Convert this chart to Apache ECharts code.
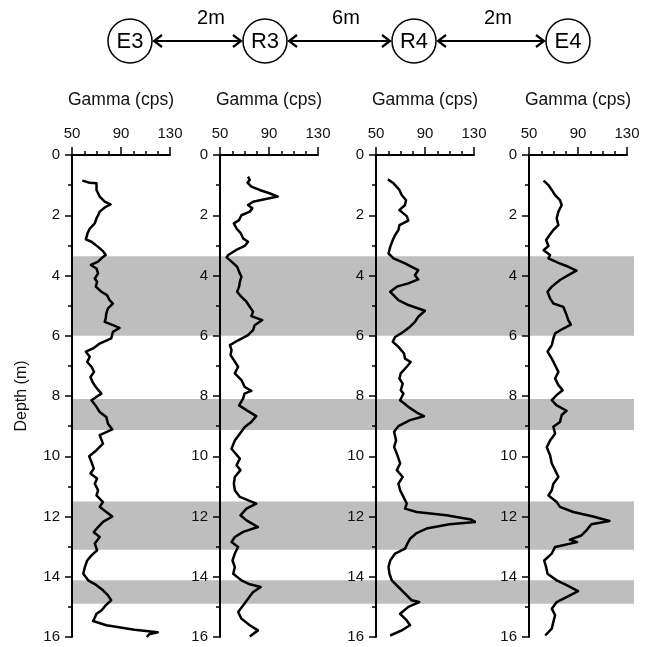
<!DOCTYPE html>
<html>
<head>
<meta charset="utf-8">
<script src="https://cdn.jsdelivr.net/npm/echarts@6/dist/echarts.min.js"></script>
<style>
  html, body { margin: 0; padding: 0; background: #fff; }
  #chart { width: 652px; height: 647px; }
</style>
</head>
<body>
<div id="chart"></div>
<script>
// borehole names and spacing between them
var wellNames = ['E3', 'R3', 'R4', 'E4'];
var spacingLabels = ['2m', '6m', '2m'];

// gamma logs, [depth (m), gamma (cps)]
var logE3 = [[0.85,58.4],[0.92,64.5],[0.94,70],[1.16,70],[1.38,72.6],[1.55,76.7],[1.64,81.5],[1.72,77.5],[1.88,72.6],[2.0,71.3],[2.1,70],[2.27,68.6],[2.44,64.5],[2.6,62.7],[2.8,61.3],[2.88,65.9],[3.05,71.3],[3.19,75.3],[3.32,77.5],[3.43,74],[3.54,71.3],[3.65,65.4],[3.77,70],[3.93,71.3],[4.1,68.6],[4.21,70.5],[4.37,69.4],[4.54,74],[4.65,78.6],[4.82,80.7],[4.93,83.4],[5.09,79.4],[5.26,78],[5.43,77.5],[5.54,76.7],[5.65,83.4],[5.74,88.8],[5.87,83.4],[6.09,82],[6.26,72.6],[6.42,67.2],[6.53,61.3],[6.7,64.5],[6.87,62.4],[7.03,65.9],[7.2,68],[7.37,65.1],[7.53,66.7],[7.7,69.4],[7.92,74],[8.14,65.9],[8.36,70],[8.53,72.6],[8.7,78],[8.92,79.4],[9.11,82.9],[9.3,72.6],[9.58,75.3],[9.8,70],[10.0,64],[10.19,65.9],[10.41,67.8],[10.57,65.1],[10.74,70.5],[10.91,68.6],[11.13,71.3],[11.3,70],[11.52,75.3],[11.68,72.6],[11.85,78],[12.0,82.9],[12.18,75.3],[12.35,71.3],[12.52,67.8],[12.68,72.6],[12.9,68.6],[13.12,70.5],[13.29,65.9],[13.46,62.4],[13.68,60.5],[13.9,59.2],[14.12,63.2],[14.28,70],[14.45,75.3],[14.62,79.4],[14.78,82],[14.95,77.5],[15.12,74],[15.23,70],[15.36,68.6],[15.47,67.2],[15.61,78],[15.76,101],[15.84,120],[15.91,113],[16.0,111]];
var logR3 = [[0.72,72.9],[0.83,74.3],[0.92,72.4],[1.05,75.6],[1.16,82.3],[1.27,90.4],[1.38,97.2],[1.47,86.4],[1.55,77],[1.66,72.9],[1.77,76.4],[1.88,74.3],[2.0,67.5],[2.16,65.6],[2.27,61.3],[2.44,63.5],[2.6,67],[2.77,68.9],[2.88,72.9],[3.02,70.2],[3.16,62.9],[3.32,56.7],[3.4,55.4],[3.54,59.4],[3.71,64],[3.88,65.6],[4.04,67.5],[4.21,66.2],[4.37,65.6],[4.54,64],[4.71,67.5],[4.87,71.6],[5.04,74.3],[5.2,77],[5.35,75.6],[5.48,84.5],[5.65,78.3],[5.81,77],[5.98,72.9],[6.15,64.8],[6.31,58.1],[6.48,59.4],[6.64,58.6],[6.81,61.3],[7.03,64.8],[7.25,62.1],[7.47,67.5],[7.7,70.2],[7.83,75.6],[7.92,70],[8.08,68.9],[8.31,65.6],[8.47,71.6],[8.67,79.6],[8.86,75.6],[9.03,70.2],[9.25,66.2],[9.48,62.1],[9.75,59.4],[10.08,66.2],[10.3,63.5],[10.46,66.7],[10.69,62.1],[10.91,61.3],[11.13,62.1],[11.35,66.2],[11.57,79.6],[11.74,71.6],[11.96,66.7],[12.13,71.6],[12.35,81],[12.51,68.9],[12.68,62.1],[12.85,59.4],[13.01,64.8],[13.23,62.1],[13.46,60.2],[13.68,62.1],[13.9,60.8],[14.12,67.5],[14.25,74.3],[14.34,83.2],[14.51,77],[14.73,72.9],[14.95,68.9],[15.17,64.8],[15.39,67.5],[15.61,74.3],[15.78,81],[15.98,74.3]];
var logR4 = [[0.81,59.7],[0.94,64.3],[1.16,69.1],[1.33,71],[1.5,74.5],[1.66,73.7],[1.83,69.1],[2.03,75.1],[2.18,76.4],[2.33,69.1],[2.49,68.3],[2.66,65.6],[2.82,63.7],[3.05,61.6],[3.27,60.2],[3.43,64.3],[3.6,73.7],[3.71,79.1],[3.82,84.5],[3.99,81.8],[4.13,84.5],[4.26,76.4],[4.37,67],[4.54,61.6],[4.65,64.3],[4.82,68.3],[4.98,76.4],[5.17,89.9],[5.37,84.5],[5.54,81.8],[5.7,77.8],[5.87,72.4],[6.04,65.6],[6.2,63.7],[6.37,68.3],[6.59,72.9],[6.76,73.7],[6.87,78.3],[7.03,75.1],[7.25,70.2],[7.42,69.1],[7.59,71.8],[7.81,70.2],[7.92,72.4],[8.14,69.7],[8.36,76.4],[8.58,84.5],[8.67,89.1],[8.8,77.8],[9.0,68.3],[9.19,64.8],[9.47,66.4],[9.69,64.8],[9.97,67.5],[10.24,69.7],[10.46,67],[10.69,71.8],[10.91,68.3],[11.13,69.7],[11.35,72.4],[11.57,75.1],[11.74,73.7],[11.85,83.2],[11.96,107.4],[12.1,127.6],[12.18,131],[12.26,110],[12.4,91.2],[12.55,83.2],[12.74,77.8],[12.9,75.6],[13.07,73.7],[13.23,65.6],[13.46,61.6],[13.68,60.2],[13.9,61],[14.12,62.9],[14.34,68.3],[14.56,73.7],[14.78,79.1],[14.84,85.3],[15.0,76.4],[15.23,69.7],[15.45,75.1],[15.61,77.8],[15.78,71],[15.95,61.6]];
var logE4 = [[0.85,61.9],[1.0,65.9],[1.16,68.6],[1.33,71.3],[1.5,75.3],[1.66,76.7],[1.88,74],[2.1,72.6],[2.33,74],[2.49,69.9],[2.66,66.7],[2.82,64],[3.02,65.9],[3.16,61.9],[3.32,67.2],[3.43,65.9],[3.58,74],[3.71,82.1],[3.84,88.8],[3.99,82.1],[4.15,75.3],[4.37,68.6],[4.54,65.1],[4.76,67.2],[4.93,69.9],[5.04,78],[5.26,80.2],[5.48,82.1],[5.63,84.2],[5.76,78],[5.92,71.3],[6.09,69.9],[6.31,68.6],[6.53,65.1],[6.76,68.6],[6.98,71.3],[7.2,74],[7.42,71.3],[7.64,74],[7.81,77.5],[7.95,73],[8.14,68.6],[8.31,72.6],[8.49,80.7],[8.63,76.7],[8.86,75.3],[9.02,69.9],[9.25,71.3],[9.48,67.2],[9.7,64.5],[9.97,67.2],[10.24,68.6],[10.46,71.3],[10.69,74],[10.91,69.9],[11.13,68.6],[11.3,65.9],[11.52,72.6],[11.68,75.3],[11.85,86.1],[12.0,102.3],[12.15,115.7],[12.26,100.9],[12.46,96.9],[12.63,92.8],[12.77,83.4],[12.85,89.3],[13.01,71.3],[13.23,68.6],[13.46,62.4],[13.68,64],[13.9,65.1],[14.12,72.6],[14.28,80.7],[14.48,90.1],[14.62,83.4],[14.84,72.6],[15.06,68.6],[15.28,71.3],[15.5,69.9],[15.72,68.6],[15.95,63.2]];

// shaded depth intervals (m)
var bandTop = [3.36, 8.1, 11.5, 14.12];
var bandBottom = [6.0, 9.13, 13.1, 14.9];

// axis ranges
var gammaMin = 50, gammaMax = 130, gammaStep = 40;
var depthMin = 0, depthMax = 16, depthStep = 2;

var logs = [logE3, logR3, logR4, logE4];

var chart = echarts.init(document.getElementById('chart'));
var font = "'Liberation Sans', Arial, Helvetica, sans-serif";

var panelLeft = [72, 220, 376, 529];
var panelWidth = 98;
var plotTop = 155, plotHeight = 482;

var grids = [], xAxes = [], yAxes = [], series = [];

for (var i = 0; i < 4; i++) {
    grids.push({ left: panelLeft[i], width: panelWidth, top: plotTop, height: plotHeight });
    xAxes.push({
        gridIndex: i,
        type: 'value',
        position: 'top',
        min: gammaMin, max: gammaMax, interval: gammaStep,
        z: 5,
        name: 'Gamma (cps)',
        nameLocation: 'middle',
        nameGap: 46,
        nameTextStyle: { fontSize: 17.5, color: '#111', fontFamily: font },
        axisLine: { show: true, onZero: false, lineStyle: { color: '#000', width: 2 } },
        axisTick: { show: true, length: 8, lineStyle: { color: '#000', width: 1.5 } },
        minorTick: { show: true, splitNumber: 4, length: 4, lineStyle: { color: '#000', width: 1.5 } },
        splitLine: { show: false },
        minorSplitLine: { show: false },
        axisLabel: { fontSize: 15, color: '#111', margin: 14, fontFamily: font }
    });
    yAxes.push({
        gridIndex: i,
        type: 'value',
        inverse: true,
        min: depthMin, max: depthMax, interval: depthStep,
        z: 5,
        name: i === 0 ? 'Depth (m)' : '',
        nameLocation: 'middle',
        nameGap: 42,
        nameRotate: 90,
        nameTextStyle: { fontSize: 16, color: '#111', fontFamily: font },
        axisLine: { show: true, onZero: false, lineStyle: { color: '#000', width: 2 } },
        axisTick: { show: true, length: 7, lineStyle: { color: '#000', width: 1.5 } },
        minorTick: { show: true, splitNumber: 2, length: 4, lineStyle: { color: '#000', width: 1.5 } },
        splitLine: { show: false },
        minorSplitLine: { show: false },
        axisLabel: { fontSize: 15, color: '#111', margin: 12, fontFamily: font }
    });
    series.push({
        name: wellNames[i],
        type: 'line',
        xAxisIndex: i,
        yAxisIndex: i,
        z: 6,
        showSymbol: false,
        symbol: 'none',
        animation: false,
        lineStyle: { color: '#000', width: 2.5, join: 'round' },
        data: logs[i].map(function (p) { return [p[1], p[0]]; })
    });
}

// one wide grid behind the panels for the grey bands
grids.push({ left: 72, width: 562, top: plotTop, height: plotHeight });
xAxes.push({ gridIndex: 4, type: 'value', min: 0, max: 1, show: false });
yAxes.push({ gridIndex: 4, type: 'value', inverse: true, min: depthMin, max: depthMax, show: false });
var bands = [];
for (var b = 0; b < bandTop.length; b++) {
    bands.push([{ yAxis: bandTop[b] }, { yAxis: bandBottom[b] }]);
}
series.push({
    type: 'line',
    xAxisIndex: 4,
    yAxisIndex: 4,
    z: 1,
    data: [],
    markArea: { silent: true, z: 1, itemStyle: { color: '#bebebe' }, data: bands }
});

// header: boreholes and distances
var wellX = [130, 265, 414, 568];
var spacingX = [211, 346, 498];
var headY = 41, headR = 22;
var graphic = [];
for (var k = 0; k < 4; k++) {
    graphic.push({
        type: 'circle',
        shape: { cx: wellX[k], cy: headY, r: headR },
        style: { fill: 'none', stroke: '#000', lineWidth: 1.5 }
    });
    graphic.push({
        type: 'text',
        x: wellX[k], y: headY + 1,
        style: { text: wellNames[k], font: '22px ' + font, fill: '#000', align: 'center', verticalAlign: 'middle' }
    });
}
for (var k = 0; k < 3; k++) {
    var x1 = wellX[k] + headR + 2, x2 = wellX[k + 1] - headR - 2;
    graphic.push({
        type: 'line',
        shape: { x1: x1, y1: headY, x2: x2, y2: headY },
        style: { stroke: '#000', lineWidth: 2.2 }
    });
    graphic.push({
        type: 'polyline',
        shape: { points: [[x1 + 8, headY - 6], [x1, headY], [x1 + 8, headY + 6]] },
        style: { stroke: '#000', lineWidth: 2.2, fill: 'none' }
    });
    graphic.push({
        type: 'polyline',
        shape: { points: [[x2 - 8, headY - 6], [x2, headY], [x2 - 8, headY + 6]] },
        style: { stroke: '#000', lineWidth: 2.2, fill: 'none' }
    });
    graphic.push({
        type: 'text',
        x: spacingX[k], y: 18,
        style: { text: spacingLabels[k], font: '20px ' + font, fill: '#000', align: 'center', verticalAlign: 'middle' }
    });
}

var option = {
    backgroundColor: '#fff',
    animation: false,
    textStyle: { fontFamily: font },
    grid: grids,
    xAxis: xAxes,
    yAxis: yAxes,
    series: series,
    graphic: graphic
};
chart.setOption(option);
</script>
</body>
</html>
